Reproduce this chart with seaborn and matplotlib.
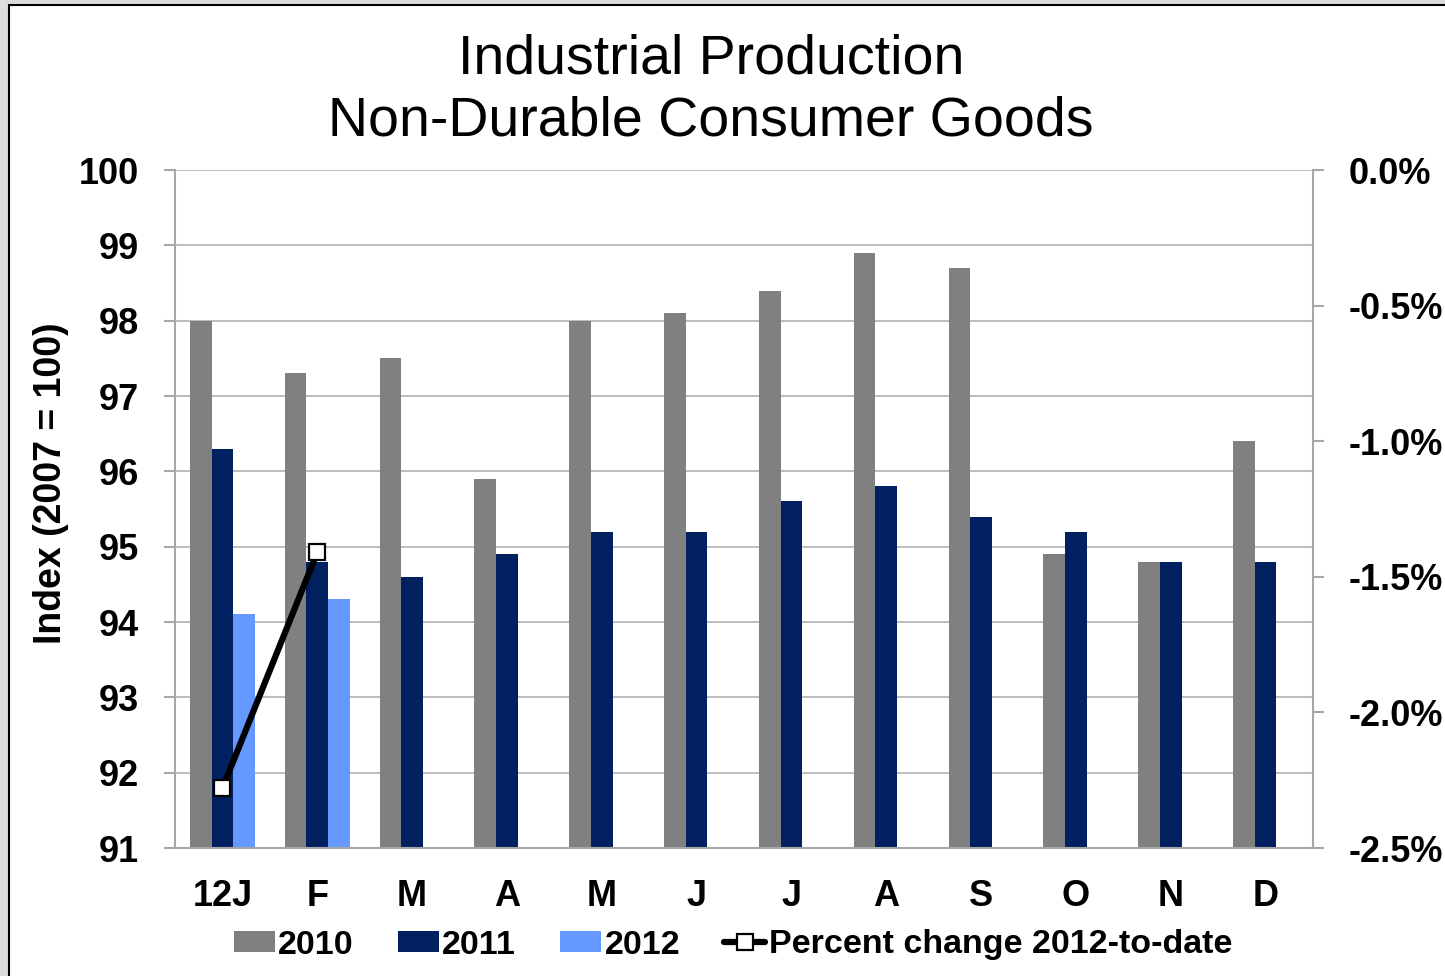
import numpy as np
import pandas as pd
import matplotlib
matplotlib.use("Agg")
import matplotlib.pyplot as plt
from matplotlib.patches import Patch, Rectangle
from matplotlib.lines import Line2D
from matplotlib.ticker import FuncFormatter, MultipleLocator
import seaborn as sns

# Data
months = ["12J", "F", "M", "A", "M", "J", "J", "A", "S", "O", "N", "D"]
idx_2010 = [98.0, 97.3, 97.5, 95.9, 98.0, 98.1, 98.4, 98.9, 98.7, 94.9, 94.8, 96.4]
idx_2011 = [96.3, 94.8, 94.6, 94.9, 95.2, 95.2, 95.6, 95.8, 95.4, 95.2, 94.8, 94.8]
idx_2012 = [94.1, 94.3] + [np.nan] * 10
pct_change = [-2.28, -1.41]  # percent change 2012-to-date, Jan and Feb

years = ["2010", "2011", "2012"]
colors = ["#808080", "#002060", "#6699FF"]

# Long format table for seaborn
slots = list(range(len(months)))
df = pd.DataFrame({
    "slot": slots * 3,
    "value": idx_2010 + idx_2011 + idx_2012,
    "year": [y for y in years for _ in months],
})

sns.set_style("white")
plt.rcParams["font.family"] = ["Liberation Sans", "DejaVu Sans"]
plt.rcParams["text.color"] = "black"
plt.rcParams["axes.labelcolor"] = "black"
plt.rcParams["xtick.labelcolor"] = "black"
plt.rcParams["ytick.labelcolor"] = "black"

fig = plt.figure(figsize=(14.45, 9.76), dpi=100)
fig.patch.set_facecolor("#dcdcdc")
fig.add_artist(Rectangle((9 / 1445, -0.01), 1.0, 1 - 5 / 976 + 0.01,
                         transform=fig.transFigure, facecolor="white",
                         edgecolor="black", lw=1.5, zorder=-10))

ax = fig.add_axes([175 / 1445, 1 - 848 / 976, 1138 / 1445, 678 / 976])
ax.set_facecolor("none")

sns.barplot(data=df, x="slot", y="value", hue="year", palette=colors,
            width=0.684, gap=0, saturation=1, legend=False, ax=ax,
            linewidth=0)

ax.set_xlim(-0.5, len(months) - 0.5)
ax.set_ylim(91, 100)
ax.yaxis.set_major_locator(MultipleLocator(1))
ax.set_axisbelow(True)
ax.grid(axis="y", color="#b0b0b0", lw=1.2)
ax.grid(axis="x", visible=False)

grid_grey = "#a6a6a6"
for s in ["top", "right"]:
    ax.spines[s].set_visible(False)
for s in ["left", "bottom"]:
    ax.spines[s].set_color(grid_grey)
    ax.spines[s].set_linewidth(1.5)

ax.set_xticks(slots)
ax.set_xticklabels(months, fontsize=26, fontweight="bold")
ax.set_xticks(np.arange(-0.5, len(months), 1.0), minor=True)
ax.tick_params(axis="x", which="major", length=0, pad=22)
ax.tick_params(axis="x", which="minor", length=8, width=1.5, color=grid_grey,
               direction="out")
ax.tick_params(axis="y", length=8, width=1.5, color=grid_grey, pad=18,
               labelsize=26, left=True)
for t in ax.get_yticklabels():
    t.set_fontweight("bold")
ax.set_xlabel("")
ax.set_ylabel("Index (2007 = 100)", fontsize=27, fontweight="bold")
ax.yaxis.set_label_coords(-0.093, 0.538)

# Secondary axis: percent change line
ax2 = ax.twinx()
sns.lineplot(x=slots[:len(pct_change)], y=pct_change, ax=ax2, color="black",
             lw=4.5, marker="s", markersize=12, markerfacecolor="white",
             markeredgecolor="black", markeredgewidth=1.6)
ax2.set_ylim(-2.5, 0)
ax2.yaxis.set_major_locator(MultipleLocator(0.5))
ax2.yaxis.set_major_formatter(FuncFormatter(lambda v, p: f"{v:.1f}%"))
for s in ["top", "left", "bottom"]:
    ax2.spines[s].set_visible(False)
ax2.spines["right"].set_color(grid_grey)
ax2.spines["right"].set_linewidth(1.5)
ax2.tick_params(axis="y", length=8, width=1.5, color=grid_grey, pad=18,
                labelsize=26, right=True)
for t in ax2.get_yticklabels():
    t.set_fontweight("bold")
ax2.set_xlim(-0.5, len(months) - 0.5)

# Title
fig.text(711 / 1445, 1 - 34 / 976,
         "Industrial Production\nNon-Durable Consumer Goods",
         ha="center", va="top", fontsize=40, linespacing=1.23, color="black")

# Legend
handles = [Patch(facecolor=c, edgecolor="none") for c in colors]
handles.append(Line2D([], [], color="black", lw=4.5, marker="s", markersize=12,
                      markerfacecolor="white", markeredgecolor="black",
                      markeredgewidth=1.6))
labels = years + ["Percent change 2012-to-date"]
fig.legend(handles, labels, loc="center", bbox_to_anchor=(733 / 1445, 1 - 945 / 976),
           ncol=4, frameon=False, prop={"size": 24.5, "weight": "bold"},
           handlelength=1.2, handleheight=0.6, handletextpad=0.1,
           columnspacing=1.3)

fig.savefig("out.png", dpi=100, facecolor=fig.get_facecolor())
